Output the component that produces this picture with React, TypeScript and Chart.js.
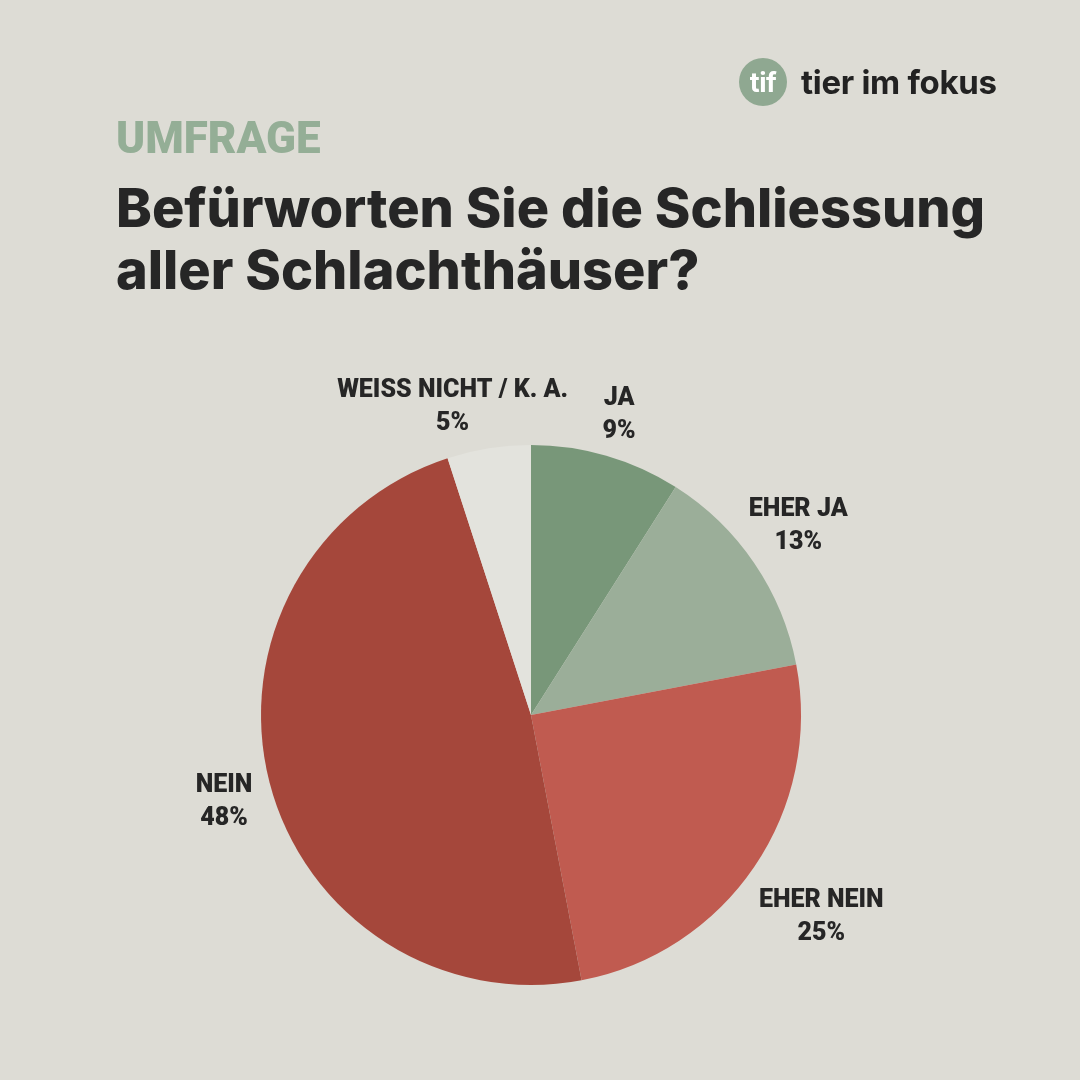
import React, { useEffect, useRef } from "react";
import { Chart, registerables } from "chart.js";

Chart.register(...registerables);

const categories = ["JA", "EHER JA", "EHER NEIN", "NEIN", "WEISS NICHT / K. A."];
const shares = [9, 13, 25, 48, 5];
const sliceColors = ["#789779", "#9bae99", "#c05b50", "#a5473b", "#e3e3dd"];
const labelNudges: [number, number][] = [[0, 3], [6, -12], [29, 24], [-1, 8], [-29, 4]];

const labelPlugin = {
  id: "sliceLabels",
  afterDatasetsDraw(chart: any) {
    const ctx = chart.ctx;
    const meta = chart.getDatasetMeta(0);
    ctx.save();
    ctx.fillStyle = "#262626";
    ctx.textAlign = "center";
    ctx.textBaseline = "middle";
    ctx.font = "900 25px Roboto";
    meta.data.forEach((arc: any, i: number) => {
      const mid = (arc.startAngle + arc.endAngle) / 2;
      const r = arc.outerRadius * 1.17;
      const x = arc.x + Math.cos(mid) * r + labelNudges[i][0];
      const y = arc.y + Math.sin(mid) * r + labelNudges[i][1];
      ctx.fillText(categories[i], x, y - 16);
      ctx.fillText(shares[i] + "%", x, y + 17);
    });
    ctx.restore();
  },
};

export default function App() {
  const ref = useRef<HTMLCanvasElement>(null);
  useEffect(() => {
    const chart = new Chart(ref.current!, {
      type: "pie",
      data: {
        labels: categories,
        datasets: [{ data: shares, backgroundColor: sliceColors, borderWidth: 0 }],
      },
      options: {
        animation: false,
        responsive: false,
        layout: { padding: { left: 261, right: 279, top: 445, bottom: 95 } },
        plugins: { legend: { display: false }, tooltip: { enabled: false } },
      },
      plugins: [labelPlugin],
    });
    return () => chart.destroy();
  }, []);

  return (
    <div style={{ position: "absolute", left: 0, top: 0, width: 1080, height: 1080, background: "#dddcd5", overflow: "hidden" }}>
      <canvas ref={ref} width={1080} height={1080} style={{ position: "absolute", left: 0, top: 0 }} />
      <div style={{ position: "absolute", left: 739, top: 58, width: 48, height: 48, borderRadius: "50%", background: "#8fa891", color: "#fff", fontFamily: "Inter", fontWeight: 700, fontSize: 27, display: "flex", alignItems: "center", justifyContent: "center", letterSpacing: -0.5 }}>tif</div>
      <div style={{ position: "absolute", left: 801, top: 61, fontFamily: "Inter", fontWeight: 700, fontSize: 33, color: "#222", lineHeight: "42px", whiteSpace: "nowrap", letterSpacing: -0.3 }}>tier im fokus</div>
      <div style={{ position: "absolute", left: 116, top: 112, fontFamily: "Roboto", fontWeight: 900, fontSize: 44, color: "#94ae96", lineHeight: "52px" }}>UMFRAGE</div>
      <div style={{ position: "absolute", left: 116, top: 177, fontFamily: "Inter", fontWeight: 800, fontSize: 54, color: "#262626", lineHeight: "62px", whiteSpace: "nowrap" }}>
        Befürworten Sie die Schliessung<br />aller Schlachthäuser?
      </div>
    </div>
  );
}
